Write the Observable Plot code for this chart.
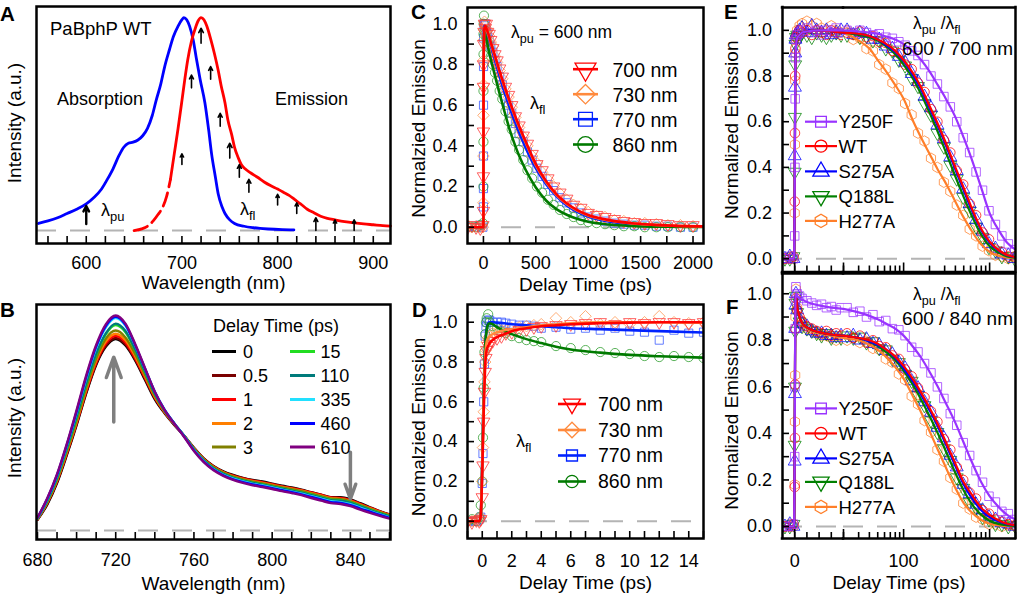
<!DOCTYPE html>
<html><head><meta charset="utf-8">
<script src="https://cdn.jsdelivr.net/npm/d3@7"></script>
<script src="https://cdn.jsdelivr.net/npm/@observablehq/plot@0.6"></script>
<style>
html,body{margin:0;padding:0;background:#fff;}
#root{position:relative;width:1019px;height:594px;overflow:hidden;background:#fff;}
</style></head><body><div id="root"></div>
<script>
// ---------------- Panel A data ----------------
const wlAbs = [550,560,570,580,590,600,608,616,622,628,634,639,644,649,654,659,664,669,673,678,682,687,691,696,700,702,705,708,712,715,719,724,728,731,735,738,742,745,750,755,765,775,790,805,817];
const absVal = [0.033,0.045,0.06,0.08,0.1,0.125,0.155,0.195,0.24,0.29,0.35,0.39,0.41,0.415,0.425,0.445,0.48,0.54,0.61,0.69,0.77,0.85,0.91,0.96,0.99,1.0,0.99,0.96,0.89,0.81,0.71,0.6,0.47,0.36,0.25,0.17,0.11,0.08,0.05,0.033,0.02,0.013,0.007,0.004,0.003];
const wlEm = [650,658,664,670,675,680,684,688,692,696,700,703,706,710,714,717,720,723,726,730,734,738,741,745,748,752,755,759,762,766,772,779,786,793,800,806,812,818,824,831,838,845,852,860,870,880,890,900,910,918];
const emVal = [0.0,0.008,0.02,0.045,0.075,0.11,0.16,0.24,0.36,0.48,0.61,0.71,0.8,0.89,0.95,0.985,1.0,0.99,0.96,0.9,0.83,0.75,0.68,0.6,0.52,0.45,0.39,0.34,0.31,0.29,0.27,0.25,0.228,0.21,0.195,0.18,0.165,0.145,0.125,0.1,0.083,0.067,0.057,0.05,0.042,0.036,0.031,0.027,0.023,0.021];
const arrowWl = [700,710,720,730,740,750,760,770,800,820,840,860,880];
const arrowLo = [0.31,0.67,0.88,0.71,0.49,0.34,0.25,0.18,0.12,0.08,0.0,0.0,0.0];
const arrowHi = [0.36,0.73,0.95,0.77,0.55,0.41,0.31,0.24,0.17,0.13,0.06,0.05,0.05];
const pumpWl = [600], pumpLo = [0.03], pumpHi = [0.115];
const ticksA = [560,580,600,620,640,660,680,700,720,740,760,780,800,820,840,860,880,900];
const labelsA = [600,700,800,900];

// ---------------- Panel B data ----------------
const wlB = [680,685,690,695,700,705,710,715,720,725,730,735,740,745,750,755,760,765,770,775,780,785,790,795,800,805,810,815,820,825,830,835,840,845,850,855,860];
const b_0   = [0.05,0.12,0.22,0.35,0.49,0.64,0.77,0.855,0.89,0.86,0.79,0.70,0.61,0.545,0.49,0.44,0.385,0.335,0.30,0.275,0.258,0.245,0.235,0.228,0.218,0.208,0.2,0.19,0.178,0.167,0.155,0.155,0.145,0.127,0.108,0.09,0.075];
const b_05  = [0.05,0.125,0.225,0.355,0.495,0.645,0.775,0.86,0.895,0.865,0.795,0.705,0.615,0.548,0.492,0.44,0.383,0.334,0.298,0.272,0.256,0.243,0.233,0.225,0.215,0.205,0.197,0.187,0.175,0.164,0.152,0.15,0.14,0.123,0.105,0.088,0.073];
const b_1   = [0.052,0.128,0.23,0.36,0.5,0.65,0.78,0.87,0.905,0.875,0.80,0.71,0.618,0.55,0.493,0.44,0.382,0.333,0.297,0.272,0.255,0.242,0.232,0.224,0.215,0.205,0.197,0.188,0.177,0.166,0.154,0.151,0.141,0.124,0.106,0.089,0.074];
const b_2   = [0.053,0.13,0.233,0.365,0.505,0.658,0.79,0.88,0.915,0.885,0.81,0.717,0.622,0.552,0.494,0.44,0.381,0.331,0.295,0.27,0.252,0.239,0.229,0.221,0.212,0.202,0.194,0.185,0.173,0.162,0.15,0.147,0.137,0.12,0.103,0.086,0.071];
const b_3   = [0.054,0.133,0.237,0.37,0.512,0.667,0.80,0.893,0.93,0.898,0.82,0.724,0.627,0.554,0.495,0.44,0.38,0.33,0.294,0.268,0.25,0.237,0.227,0.219,0.21,0.2,0.192,0.183,0.171,0.16,0.148,0.145,0.135,0.118,0.101,0.084,0.07];
const b_15  = [0.055,0.137,0.243,0.38,0.525,0.682,0.818,0.913,0.955,0.922,0.838,0.737,0.635,0.558,0.497,0.44,0.378,0.327,0.29,0.264,0.246,0.233,0.222,0.214,0.205,0.195,0.186,0.177,0.166,0.155,0.143,0.14,0.13,0.114,0.097,0.081,0.067];
const b_110 = [0.056,0.139,0.246,0.383,0.53,0.688,0.823,0.918,0.962,0.928,0.842,0.74,0.637,0.559,0.497,0.44,0.377,0.326,0.289,0.263,0.245,0.232,0.221,0.213,0.204,0.194,0.185,0.176,0.164,0.153,0.141,0.138,0.128,0.112,0.095,0.079,0.065];
const b_335 = [0.058,0.145,0.255,0.395,0.548,0.71,0.848,0.945,0.988,0.952,0.86,0.752,0.645,0.562,0.498,0.438,0.374,0.322,0.285,0.259,0.241,0.228,0.217,0.209,0.2,0.19,0.181,0.171,0.159,0.148,0.136,0.132,0.122,0.106,0.09,0.075,0.061];
const b_460 = [0.059,0.147,0.258,0.398,0.553,0.716,0.855,0.952,0.994,0.957,0.862,0.752,0.644,0.561,0.497,0.437,0.372,0.32,0.283,0.257,0.238,0.225,0.214,0.206,0.197,0.187,0.178,0.168,0.156,0.144,0.132,0.128,0.118,0.102,0.087,0.072,0.058];
const b_610 = [0.06,0.15,0.262,0.403,0.56,0.724,0.863,0.96,1.0,0.962,0.866,0.755,0.645,0.56,0.496,0.435,0.37,0.318,0.28,0.254,0.235,0.221,0.21,0.202,0.193,0.183,0.174,0.164,0.151,0.139,0.127,0.123,0.113,0.097,0.082,0.068,0.055];
const delaysB = ["0","0.5","1","2","3","15","110","335","460","610"];
const arrowBx = [719, 840], arrowBfrom = [0.504, 0.364], arrowBto = [0.806, 0.147];
const ticksB = [680,690,700,710,720,730,740,750,760,770,780,790,800,810,820,830,840,850,860];
const labelsB = [680,720,760,800,840];

// ---------------- Panel C data ----------------
const tFitC = [-150,-1,0,1,3,10,20,30,50,75,100,150,200,250,300,350,400,500,600,700,800,900,1000,1200,1400,1600,1800,2100];
const fitC700 = [0,0,0.05,0.6,0.85,0.98,0.99,0.975,0.945,0.9,0.86,0.775,0.695,0.62,0.55,0.485,0.425,0.31,0.225,0.16,0.115,0.083,0.06,0.035,0.021,0.013,0.008,0.004];
const fitC730 = [0,0,0.05,0.62,0.87,0.98,0.985,0.97,0.94,0.895,0.855,0.77,0.69,0.615,0.545,0.48,0.42,0.305,0.22,0.157,0.112,0.08,0.058,0.033,0.02,0.012,0.007,0.004];
const fitC770 = [0,0,0.05,0.65,0.92,0.99,0.985,0.965,0.93,0.885,0.84,0.75,0.665,0.59,0.52,0.455,0.395,0.29,0.21,0.15,0.105,0.075,0.053,0.028,0.015,0.008,0.004,0.002];
const fitC860 = [0,0,0.05,0.6,0.9,0.96,0.94,0.92,0.87,0.815,0.765,0.665,0.57,0.48,0.405,0.34,0.285,0.195,0.13,0.088,0.06,0.04,0.027,0.013,0.006,0.003,0.002,0.001];
const tMC = [-150,-110,-70,-30,-5,0,0.2,0.4,0.7,1,2,5,10,18,28,40,55,70,90,110,130,155,180,210,240,270,305,340,380,420,465,510,560,615,670,730,795,860,930,1000,1080,1160,1250,1340,1440,1540,1650,1760,1880,2000];
const datC700 = [0,0.01,0,-0.005,0.01,0.08,0.25,0.47,0.69,0.8,0.9,0.96,1.0,0.98,1.0,0.96,0.95,0.92,0.88,0.85,0.82,0.78,0.74,0.69,0.65,0.6,0.545,0.5,0.45,0.41,0.36,0.31,0.28,0.24,0.2,0.17,0.14,0.11,0.095,0.07,0.06,0.05,0.04,0.03,0.025,0.02,0.02,0.015,0.01,0.01];
const datC730 = [0.01,0,0.005,0,0,0.12,0.35,0.55,0.7,0.82,0.92,0.97,1.01,0.99,0.97,0.97,0.94,0.91,0.89,0.84,0.81,0.77,0.73,0.68,0.64,0.59,0.54,0.49,0.445,0.4,0.35,0.315,0.27,0.235,0.2,0.165,0.135,0.11,0.09,0.075,0.055,0.05,0.035,0.03,0.02,0.02,0.015,0.01,0.01,0.005];
const datC770 = [0,0.005,0,0.01,0,0.1,0.19,0.35,0.6,0.79,0.93,1.0,0.99,1.0,0.97,0.95,0.92,0.89,0.86,0.82,0.79,0.74,0.7,0.645,0.6,0.56,0.51,0.46,0.42,0.37,0.33,0.29,0.25,0.21,0.18,0.145,0.12,0.095,0.07,0.05,0.04,0.03,0.02,0.015,0.01,0.01,0.005,0.005,0,0];
const datC860 = [0.005,0,0,0.01,0.02,0.2,0.42,0.67,0.85,0.95,1.0,1.04,0.97,0.95,0.93,0.91,0.88,0.84,0.8,0.76,0.72,0.67,0.63,0.57,0.52,0.48,0.42,0.38,0.33,0.28,0.24,0.2,0.17,0.135,0.11,0.085,0.065,0.05,0.035,0.025,0.02,0.015,0.01,0.005,0.005,0,0,0,0,0];
const ticksCx = [0,250,500,750,1000,1250,1500,1750,2000];
const labelsCx = [0,500,1000,1500,2000];
const ticksY = [0,0.1,0.2,0.3,0.4,0.5,0.6,0.7,0.8,0.9,1.0];
const labelsY = [0,0.2,0.4,0.6,0.8,1.0];
const wlNames = ["700 nm","730 nm","770 nm","860 nm"];

// ---------------- Panel D data ----------------
const tFitD = [-1,-0.5,-0.2,-0.1,0,0.1,0.2,0.3,0.4,0.5,0.7,1,1.5,2,3,4,5,6,8,10,12,15];
const fitD700 = [0,0,0,0.03,0.25,0.55,0.78,0.86,0.88,0.895,0.91,0.925,0.94,0.955,0.97,0.98,0.985,0.99,0.995,0.998,1.0,1.0];
const fitD730 = [0,0,0,0.03,0.27,0.6,0.83,0.9,0.92,0.93,0.94,0.95,0.96,0.965,0.975,0.985,0.99,0.995,1.0,1.0,1.0,0.998];
const fitD770 = [0,0,0,0.03,0.3,0.65,0.88,0.97,0.995,1.0,1.0,0.998,0.995,0.99,0.985,0.98,0.975,0.97,0.965,0.96,0.955,0.948];
const fitD860 = [0,0,0,0.03,0.3,0.65,0.88,0.96,0.99,0.995,0.99,0.975,0.955,0.94,0.915,0.895,0.877,0.863,0.847,0.836,0.829,0.822];
const tMD = [-1,-0.7,-0.4,-0.2,-0.1,0,0.05,0.1,0.15,0.2,0.25,0.3,0.4,0.5,0.7,1,1.3,1.6,2,2.5,3,3.5,4,5,6,7,8,9,10,11,12,13,14,15];
const datD700 = [0,-0.005,0.005,0,0.01,0.12,0.28,0.5,0.65,0.75,0.82,0.86,0.88,0.89,0.905,0.92,0.93,0.945,0.95,0.96,0.965,0.975,0.98,0.985,0.99,0.995,1.0,0.99,1.0,0.995,1.0,1.0,0.995,1.0];
const datD730 = [0,0,0.01,0,0.02,0.2,0.37,0.55,0.7,0.8,0.86,0.9,0.92,0.93,0.945,0.95,0.96,0.96,0.97,0.975,0.98,0.985,0.99,1.02,1.0,1.03,0.99,1.0,0.99,1.0,1.03,1.0,0.995,1.0];
const datD770 = [0,0,0,0.01,0.02,0.19,0.34,0.6,0.79,0.93,0.98,1.0,1.01,1.01,1.0,1.0,1.0,0.995,0.99,0.985,0.985,0.98,0.97,0.975,0.965,0.97,0.96,0.97,0.955,0.95,0.91,0.96,0.945,0.95];
const datD860 = [0,0.01,0,0.02,0.08,0.2,0.42,0.67,0.85,0.94,1.0,1.02,1.04,1.0,0.98,0.97,0.95,0.945,0.93,0.92,0.91,0.905,0.9,0.88,0.87,0.86,0.85,0.845,0.84,0.83,0.825,0.83,0.825,0.82];
const ticksDx = [-1,0,1,2,3,4,5,6,7,8,9,10,11,12,13,14,15];
const labelsDx = [0,2,4,6,8,10,12,14];

// ---------------- Panels E / F data ----------------
const mutants = ["Y250F","WT","S275A","Q188L","H277A"];
const tFitEF = [-5,-0.5,-0.2,0,0.2,0.4,0.7,1,2,3,5,10,15,20,30,40,50,60,80,100,130,160,200,250,300,400,500,600,800,1000,1300,1600,2000];
const fitE_Y250F = [0,0,0.02,0.3,0.75,0.9,0.95,0.965,0.98,0.99,0.995,1.0,1.0,1.0,0.995,0.99,0.985,0.975,0.96,0.94,0.905,0.87,0.82,0.76,0.71,0.62,0.53,0.45,0.31,0.2,0.12,0.07,0.04];
const fitE_WT    = [0,0,0.02,0.3,0.75,0.9,0.95,0.965,0.98,0.99,0.995,1.0,0.995,0.99,0.985,0.975,0.96,0.945,0.91,0.87,0.81,0.75,0.67,0.59,0.52,0.4,0.31,0.235,0.13,0.075,0.035,0.016,0.007];
const fitE_S275A = [0,0,0.02,0.3,0.75,0.9,0.95,0.965,0.98,0.99,0.995,1.0,0.995,0.99,0.985,0.975,0.96,0.94,0.905,0.865,0.8,0.74,0.66,0.58,0.51,0.39,0.3,0.225,0.125,0.07,0.033,0.015,0.007];
const fitE_Q188L = [0,0,0.02,0.3,0.75,0.9,0.95,0.965,0.98,0.99,0.995,1.0,0.995,0.99,0.98,0.97,0.955,0.935,0.895,0.85,0.785,0.72,0.64,0.555,0.48,0.36,0.27,0.2,0.105,0.055,0.025,0.01,0.005];
const fitE_H277A = [0,0,0.02,0.3,0.75,0.9,0.95,0.965,0.98,0.99,0.995,1.0,0.995,0.99,0.955,0.92,0.87,0.83,0.76,0.7,0.6,0.53,0.46,0.39,0.34,0.25,0.18,0.13,0.062,0.03,0.012,0.005,0.002];
const fitF_Y250F = [0,0,0.02,0.35,0.85,1.0,1.0,0.99,0.98,0.975,0.965,0.95,0.94,0.935,0.92,0.905,0.89,0.875,0.85,0.82,0.77,0.725,0.665,0.6,0.54,0.445,0.36,0.29,0.19,0.13,0.08,0.05,0.03];
const fitF_WT    = [0,0,0.02,0.35,0.85,1.0,0.98,0.95,0.9,0.875,0.855,0.835,0.825,0.82,0.81,0.8,0.785,0.765,0.73,0.69,0.63,0.575,0.51,0.44,0.375,0.27,0.19,0.145,0.08,0.05,0.025,0.012,0.006];
const fitF_S275A = [0,0,0.02,0.35,0.85,1.0,0.98,0.95,0.9,0.875,0.855,0.835,0.825,0.82,0.81,0.795,0.78,0.765,0.725,0.68,0.62,0.565,0.5,0.43,0.365,0.26,0.18,0.13,0.07,0.04,0.02,0.01,0.005];
const fitF_Q188L = [0,0,0.02,0.35,0.85,1.0,0.98,0.95,0.9,0.875,0.855,0.835,0.825,0.82,0.81,0.795,0.775,0.755,0.715,0.67,0.605,0.545,0.475,0.4,0.335,0.23,0.155,0.105,0.05,0.025,0.01,0.005,0.002];
const fitF_H277A = [0,0,0.02,0.35,0.85,1.0,0.98,0.95,0.9,0.87,0.85,0.83,0.82,0.81,0.8,0.78,0.76,0.735,0.685,0.635,0.555,0.49,0.41,0.33,0.265,0.165,0.1,0.065,0.028,0.012,0.005,0.002,0.001];
const tMEF = [-4,-2,-0.5,0,0.1,0.2,0.3,0.5,1,2,3,5,7,9,11,13,15,17,19,22,26,31,37,44,52,62,74,88,104,124,147,175,208,247,294,349,415,493,586,696,827,983,1168,1388,1650,1960];
const datE_Y250F = [0,0.01,0,0.1,0.4,0.7,0.88,0.96,0.98,0.99,1.0,1.01,0.99,1.0,0.98,1.0,0.99,1.01,0.99, 1.0,0.99,1.0,0.99,0.98,0.985,0.97,0.965,0.95,0.935,0.91,0.89,0.85,0.8,0.765,0.71,0.665,0.6,0.53,0.465,0.38,0.3,0.21,0.15,0.1,0.065,0.04];
const datE_WT    = [0,0,0.01,0.25,0.55,0.8,0.92,0.97,0.98,1.0,0.99,1.0,0.98,1.0,0.99,0.98,1.0,0.99,0.98, 0.99,0.98,0.995,0.97,0.975,0.95,0.945,0.91,0.9,0.85,0.83,0.77,0.73,0.655,0.6,0.52,0.465,0.385,0.325,0.24,0.19,0.115,0.085,0.04,0.03,0.01,0.01];
const datE_S275A = [0,0.01,0,0.45,0.75,0.9,0.96,0.98,0.99,1.0,1.01,0.99,1.02,1.0,0.99,1.0,0.98,0.99,1.0, 1.0,0.98,0.99,0.985,0.96,0.96,0.93,0.92,0.885,0.86,0.81,0.775,0.71,0.66,0.585,0.525,0.445,0.385,0.305,0.24,0.17,0.12,0.065,0.045,0.02,0.015,0.0];
const datE_Q188L = [0,0,0.01,0.38,0.62,0.85,0.94,0.97,0.98,0.97,0.99,0.98,0.97,0.99,0.98,0.97,0.98,0.99,0.98, 0.98,0.99,0.97,0.975,0.955,0.955,0.92,0.91,0.87,0.845,0.79,0.755,0.68,0.63,0.55,0.49,0.41,0.35,0.27,0.21,0.14,0.095,0.05,0.035,0.01,0.01,0.0];
const datE_H277A = [0,0.01,0,0.2,0.5,0.78,0.9,0.96,1.0,1.02,1.03,1.04,1.02,1.03,1.01,1.0,1.02,1.0,0.99, 1.0,0.96,0.965,0.92,0.91,0.85,0.83,0.77,0.745,0.68,0.63,0.55,0.515,0.44,0.4,0.335,0.295,0.235,0.19,0.13,0.1,0.055,0.035,0.015,0.01,0.0,0.005];
const datF_Y250F = [0,0,0.01,0.3,0.6,0.85,0.97,1.03,1.0,0.99,0.98,0.97,0.96,0.95,0.955,0.94,0.945,0.93,0.94, 0.94,0.92,0.925,0.9,0.91,0.88,0.885,0.85,0.845,0.82,0.77,0.75,0.7,0.66,0.6,0.55,0.485,0.435,0.36,0.305,0.24,0.19,0.13,0.105,0.065,0.055,0.03];
const datF_WT    = [0,0,0.01,0.17,0.38,0.61,0.85,0.98,0.93,0.9,0.88,0.86,0.85,0.84,0.83,0.84,0.82,0.83,0.82, 0.83,0.81,0.82,0.79,0.8,0.775,0.77,0.735,0.72,0.675,0.645,0.595,0.555,0.495,0.45,0.375,0.33,0.255,0.2,0.145,0.12,0.07,0.055,0.03,0.02,0.01,0.005];
const datF_S275A = [0,0.01,0,0.28,0.57,0.85,0.95,1.0,0.93,0.89,0.87,0.86,0.84,0.83,0.83,0.82,0.82,0.81,0.82, 0.81,0.82,0.8,0.805,0.785,0.78,0.755,0.74,0.705,0.68,0.625,0.595,0.535,0.49,0.425,0.38,0.305,0.255,0.18,0.14,0.095,0.07,0.04,0.03,0.015,0.01,0.0];
const datF_Q188L = [0,0,0.01,0.35,0.6,0.84,0.96,0.99,0.92,0.88,0.86,0.85,0.84,0.83,0.82,0.83,0.81,0.82,0.81, 0.82,0.81,0.815,0.79,0.795,0.765,0.76,0.72,0.705,0.655,0.625,0.565,0.52,0.455,0.405,0.335,0.285,0.21,0.165,0.105,0.08,0.04,0.03,0.01,0.01,0.0,0.005];
const datF_H277A = [0,0.01,0,0.18,0.45,0.65,0.9,1.02,0.94,0.89,0.87,0.85,0.84,0.83,0.82,0.82,0.81,0.8,0.81, 0.8,0.81,0.79,0.795,0.765,0.76,0.72,0.705,0.655,0.63,0.56,0.525,0.455,0.405,0.33,0.28,0.21,0.16,0.1,0.075,0.04,0.03,0.01,0.01,0.0,0.005,0.0];
const ticksLin = [0,5,10,15,20], majorLin = [0,20];
const ticksLog = [30,40,50,60,70,80,90,200,300,400,500,600,700,800,900,2000], majorLog = [100,1000];

// ---------------- styles ----------------
const FONT = '"Liberation Sans", Arial, Helvetica, sans-serif';
const colorsB = ["#000000","#7a0000","#ff0000","#ff7f00","#808000","#22dd22","#007b7b","#22e0ff","#0000ff","#800080"];
const colorsWl = ["#ff0000","#ff8a3d","#0022ff","#007a00"];
const colorsWlDot = ["#ff3b3b","#ff9a55","#3d5cff","#33a033"];
const colorsMut = ["#9933ff","#ff0000","#0000ff","#008000","#ff7f2a"];
const dash = {stroke: "#b4b4b4", strokeWidth: 2, strokeDasharray: "20,14"};
const frameStyle = {stroke: "black", strokeWidth: 2.5};
const tickStyle = {stroke: "black", strokeWidth: 1.6};
const titleX = {textAnchor: "middle", lineAnchor: "middle", fontSize: 19};
const titleY = {textAnchor: "middle", lineAnchor: "middle", rotate: -90, fontSize: 19};

const symTriDown = {draw(ctx, size) { const y = -Math.sqrt(size / (Math.sqrt(3) * 3)); ctx.moveTo(0, -y * 2); ctx.lineTo(-Math.sqrt(3) * y, y); ctx.lineTo(Math.sqrt(3) * y, y); ctx.closePath(); }};
const symDiamond = {draw(ctx, size) { const r = Math.sqrt(size / 2); ctx.moveTo(0, -r); ctx.lineTo(r, 0); ctx.lineTo(0, r); ctx.lineTo(-r, 0); ctx.closePath(); }};
const symHex = {draw(ctx, size) { const R = Math.sqrt(2 * size / (3 * Math.sqrt(3))); for (let i = 0; i < 6; i++) { const a = Math.PI / 3 * i + Math.PI / 6; const px = R * Math.cos(a), py = R * Math.sin(a); if (i) ctx.lineTo(px, py); else ctx.moveTo(px, py); } ctx.closePath(); }};
const symsWl = [symTriDown, symDiamond, d3.symbolSquare, d3.symbolCircle];
const symsMut = [d3.symbolSquare, d3.symbolCircle, d3.symbolTriangle, symTriDown, symHex];

const zip = (xs, ys) => xs.map((x, i) => ({x, y: ys[i]}));
const root = document.getElementById("root");
function addPlot(left, top, width, height, m, options) {
  const svg = Plot.plot({
    width, height, marginTop: m[0], marginRight: m[1], marginBottom: m[2], marginLeft: m[3],
    style: {fontFamily: FONT, fontSize: "18px", background: "transparent", overflow: "visible", color: "black"},
    ...options
  });
  svg.style.position = "absolute"; svg.style.left = left + "px"; svg.style.top = top + "px";
  root.appendChild(svg);
  return svg;
}
const fmt1 = d3.format(".1f");

// ---------------- Panel A ----------------
{
  const innerH = 295 - 6 - 52;
  const abs = zip(wlAbs, absVal), em = zip(wlEm, emVal);
  const arrows = arrowWl.map((x, i) => ({x, lo: arrowLo[i], hi: arrowHi[i]}));
  const pump = pumpWl.map((x, i) => ({x, lo: pumpLo[i], hi: pumpHi[i]}));
  addPlot(0, 0, 400, 295, [6, 10, 52, 36], {
    x: {domain: [548, 918]}, y: {domain: [-0.061, 1.052], axis: null},
    marks: [
      Plot.ruleY([0], dash),
      Plot.line(abs, {x: "x", y: "y", stroke: "#0000ff", strokeWidth: 2.8, curve: "monotone-x"}),
      Plot.line(em.filter(d => d.x <= 688), {x: "x", y: "y", stroke: "#ff0000", strokeWidth: 2.8, strokeDasharray: "14,6", curve: "monotone-x"}),
      Plot.line(em.filter(d => d.x >= 688), {x: "x", y: "y", stroke: "#ff0000", strokeWidth: 2.8, curve: "monotone-x"}),
      Plot.arrow(arrows, {x1: "x", x2: "x", y1: "lo", y2: "hi", stroke: "black", strokeWidth: 1.6, headLength: 5, headAngle: 55}),
      Plot.arrow(pump, {x1: "x", x2: "x", y1: "lo", y2: "hi", stroke: "black", strokeWidth: 2.4, headLength: 7, headAngle: 55}),
      Plot.frame(frameStyle),
      Plot.tickX(ticksA, {x: d => d, insetTop: innerH - 7, ...tickStyle}),
      Plot.axisX(labelsA, {tickSize: 0, tickPadding: 12.5, label: null, tickFormat: d => String(d)}),
      Plot.text(["Wavelength (nm)"], {text: d => d, frameAnchor: "bottom", dy: 39, ...titleX})
      ,
      Plot.text(["Intensity (a.u.)"], {text: d => d, frameAnchor: "left", dx: -22, dy: -2, ...titleY})
    ]
  });
}

// ---------------- Panel B ----------------
{
  const innerH = 299 - 9 - 55;
  const series = [b_0, b_05, b_1, b_2, b_3, b_15, b_110, b_335, b_460, b_610];
  const arrowsB = arrowBx.map((x, i) => ({x, y1: arrowBfrom[i], y2: arrowBto[i]}));
  addPlot(0, 295, 400, 299, [9, 10, 55, 36], {
    x: {domain: [679.5, 860.5]}, y: {domain: [-0.042, 1.051], axis: null},
    marks: [
      Plot.ruleY([0], dash),
      ...series.map((s, i) => Plot.line(zip(wlB, s), {x: "x", y: "y", stroke: colorsB[i], strokeWidth: 2.4, curve: "monotone-x", clip: true})),
      Plot.arrow(arrowsB, {x1: "x", x2: "x", y1: "y1", y2: "y2", stroke: "#7f7f7f", strokeWidth: 3.5, headLength: 13, headAngle: 40}),
      Plot.frame(frameStyle),
      Plot.tickX(ticksB, {x: d => d, insetTop: innerH - 7, ...tickStyle}),
      Plot.axisX(labelsB, {tickSize: 0, tickPadding: 13.5, label: null, tickFormat: d => String(d)}),
      Plot.text(["Wavelength (nm)"], {text: d => d, frameAnchor: "bottom", dy: 44, ...titleX}),
      Plot.text(["Intensity (a.u.)"], {text: d => d, frameAnchor: "left", dx: -22, dy: -4, ...titleY})
    ]
  });
}

// ---------------- Panels C & D ----------------
function panelCD(top, height, m, xDomain, yDomain, tFit, fits, tM, dats, xTicks, xLabels, padX, titleDy, yTitleDy) {
  const innerH = height - m[0] - m[2], innerW = 310 - m[1] - m[3];
  const order = [2, 3, 1, 0];
  addPlot(400, top, 310, height, m, {
    x: {domain: xDomain}, y: {domain: yDomain},
    marks: [
      Plot.ruleY([0], dash),
      ...order.map(i => Plot.dot(zip(tM, dats[i]), {x: "x", y: "y", symbol: symsWl[i], r: 4.6, fill: "none", stroke: colorsWlDot[i], strokeWidth: 1, strokeOpacity: 0.8, clip: true})),
      ...order.map(i => Plot.line(zip(tFit, fits[i]), {x: "x", y: "y", stroke: colorsWl[i], strokeWidth: 2.6, curve: "monotone-x", clip: true})),
      Plot.frame(frameStyle),
      Plot.tickX(xTicks, {x: d => d, insetTop: innerH - 7, ...tickStyle}),
      Plot.tickY(ticksY, {y: d => d, insetRight: innerW - 7, ...tickStyle}),
      Plot.axisX(xLabels, {tickSize: 0, tickPadding: padX, label: null, tickFormat: d => String(d)}),
      Plot.axisY(labelsY, {tickSize: 0, tickPadding: 10, label: null, tickFormat: fmt1}),
      Plot.text(["Delay Time (ps)"], {text: d => d, frameAnchor: "bottom", dy: titleDy, ...titleX}),
      Plot.text(["Normalzied Emission"], {text: d => d, frameAnchor: "left", dx: -48.5, dy: yTitleDy, ...titleY})
    ]
  });
}
panelCD(0, 295, [7, 7, 52, 67], [-152, 2100], [-0.08, 1.08], tFitC, [fitC700, fitC730, fitC770, fitC860], tMC, [datC700, datC730, datC770, datC860], ticksCx, labelsCx, 13, 41, 3);
panelCD(295, 299, [9, 7, 56, 67], [-1, 15], [-0.087, 1.089], tFitD, [fitD700, fitD730, fitD770, fitD860], tMD, [datD700, datD730, datD770, datD860], ticksDx, labelsDx, 16, 44.5, 5.5);

// ---------------- Panels E & F (linear | log split axis) ----------------
function panelEF(top, height, m, yDomain, fits, dats, showLabels, yTitleDy) {
  const innerH = height - m[0] - m[2];
  const wLin = 133, wLog = 176;
  const order = [4, 3, 2, 1, 0];
  const linFits = fits.map(f => zip(tFitEF, f).filter(d => d.x <= 30));
  const logFits = fits.map(f => zip(tFitEF, f).filter(d => d.x >= 15));
  const linDots = dats.map(f => zip(tMEF, f).filter(d => d.x <= 20));
  const logDots = dats.map(f => zip(tMEF, f).filter(d => d.x >= 20));
  const dotOpts = i => ({x: "x", y: "y", symbol: symsMut[i], r: 4.8, fill: "none", stroke: colorsMut[i], strokeWidth: 1, strokeOpacity: 0.75, clip: true});
  const lineOpts = i => ({x: "x", y: "y", stroke: colorsMut[i], strokeWidth: 2.2, curve: "monotone-x", clip: true});
  // linear part
  addPlot(710, top, wLin, height, [m[0], 0, m[2], 72], {
    x: {domain: [-5, 20], axis: null}, y: {domain: yDomain},
    marks: [
      Plot.ruleY([0], dash),
      ...order.map(i => Plot.dot(linDots[i], dotOpts(i))),
      ...order.map(i => Plot.line(linFits[i], lineOpts(i))),
      Plot.ruleY(yDomain, {...frameStyle, strokeLinecap: "square"}),
      Plot.ruleX([-5], {...frameStyle, strokeLinecap: "square"}),
      Plot.tickX(ticksLin, {x: d => d, insetTop: innerH - 6, ...tickStyle}),
      Plot.tickX(majorLin, {x: d => d, insetTop: innerH - 9, ...tickStyle}),
      Plot.tickY(ticksY, {y: d => d, insetRight: 61 - 7, ...tickStyle}),
      Plot.axisY(labelsY, {tickSize: 0, tickPadding: 10.5, label: null, tickFormat: fmt1}),
      ...(showLabels ? [Plot.axisX([0], {tickSize: 0, tickPadding: 16, label: null, tickFormat: d => String(d)})] : []),
      Plot.text(["Normalized Emission"], {text: d => d, frameAnchor: "left", dx: -50.5, dy: yTitleDy, ...titleY})
    ]
  });
  // log part
  addPlot(843, top, wLog, height, [m[0], 4, m[2], 0], {
    x: {type: "log", domain: [20, 2000], axis: null}, y: {domain: yDomain, axis: null},
    marks: [
      Plot.ruleY([0], dash),
      ...order.map(i => Plot.dot(logDots[i], dotOpts(i))),
      ...order.map(i => Plot.line(logFits[i], lineOpts(i))),
      Plot.ruleY(yDomain, {...frameStyle, strokeLinecap: "square"}),
      Plot.ruleX([2000], {...frameStyle, strokeLinecap: "square"}),
      Plot.tickX(ticksLog, {x: d => d, insetTop: innerH - 6, ...tickStyle}),
      Plot.tickX(majorLog, {x: d => d, insetTop: innerH - 9, ...tickStyle}),
      ...(showLabels ? [
        Plot.axisX([20, 100, 1000], {tickSize: 0, tickPadding: 16, label: null, tickFormat: d => String(d)}),
        Plot.text(["Delay Time (ps)"], {text: d => d, frameAnchor: "bottom-left", dx: 55.5, dy: 44.5, ...titleX})
      ] : [])
    ]
  });
}
panelEF(0, 274, [7, 0, 2.5, 0], [-0.058, 1.1],
  [fitE_Y250F, fitE_WT, fitE_S275A, fitE_Q188L, fitE_H277A],
  [datE_Y250F, datE_WT, datE_S275A, datE_Q188L, datE_H277A], false, -10);
panelEF(270, 324, [3, 0, 56, 0], [-0.0516, 1.087],
  [fitF_Y250F, fitF_WT, fitF_S275A, fitF_Q188L, fitF_H277A],
  [datF_Y250F, datF_WT, datF_S275A, datF_Q188L, datF_H277A], true, 14.5);

// ---------------- Annotations & legends overlay ----------------
const ov = d3.select(root).append("svg")
  .attr("width", 1019).attr("height", 594)
  .style("position", "absolute").style("left", "0px").style("top", "0px")
  .style("font-family", FONT).style("pointer-events", "none");
function txt(x, y, s, size, opts = {}) {
  const t = ov.append("text").attr("x", x).attr("y", y).attr("font-size", size).attr("fill", "black").text(s);
  if (opts.bold) t.attr("font-weight", "bold");
  if (opts.anchor) t.attr("text-anchor", opts.anchor);
  return t;
}
function rich(x, y, parts, size, anchor) {
  const t = ov.append("text").attr("x", x).attr("y", y).attr("font-size", size).attr("fill", "black");
  if (anchor) t.attr("text-anchor", anchor);
  let sub = false;
  for (const [s, isSub] of parts) {
    const sp = t.append("tspan").text(s);
    if (isSub && !sub) sp.attr("dy", 5).attr("font-size", size * 0.72);
    else if (isSub) sp.attr("font-size", size * 0.72);
    else if (!isSub && sub) sp.attr("dy", -5);
    sub = isSub;
  }
  return t;
}
function legendRow(x1, x2, yc, color, sym, symSize, label, tx, tBase, fsize, lw) {
  ov.append("line").attr("x1", x1).attr("x2", x2).attr("y1", yc).attr("y2", yc).attr("stroke", color).attr("stroke-width", lw);
  if (sym) ov.append("path").attr("transform", `translate(${(x1 + x2) / 2},${yc})`).attr("d", d3.symbol(sym, symSize)()).attr("fill", "none").attr("stroke", color).attr("stroke-width", 1.3);
  txt(tx, tBase, label, fsize);
}

// panel letters
txt(0, 20.5, "A", 20.5, {bold: true});
txt(0, 316.5, "B", 20.5, {bold: true});
txt(411, 18.5, "C", 20.5, {bold: true});
txt(412, 316.5, "D", 20.5, {bold: true});
txt(724, 18.5, "E", 20.5, {bold: true});
txt(726, 313.5, "F", 20.5, {bold: true});

// A
txt(50, 35, "PaBphP WT", 18.5);
txt(57, 105, "Absorption", 18);
txt(275, 105, "Emission", 18);
rich(101, 216, [["λ", false], ["pu", true]], 18);
rich(240, 215, [["λ", false], ["fl", true]], 18);

// B legend
txt(213, 332, "Delay Time (ps)", 18);
const bBase = [358, 382, 406, 430, 453.5];
for (let i = 0; i < 5; i++) {
  legendRow(212, 236, bBase[i] - 6.5, colorsB[i], null, 0, delaysB[i], 243, bBase[i], 18, 3);
  legendRow(290, 315, bBase[i] - 6.5, colorsB[i + 5], null, 0, delaysB[i + 5], 320.5, bBase[i], 18, 3);
}

// C
rich(511, 38, [["λ", false], ["pu", true], [" = 600 nm", false]], 17.5);
rich(530, 108.5, [["λ", false], ["fl", true]], 18);
const cBase = [76.7, 101.7, 126.7, 152];
for (let i = 0; i < 4; i++) legendRow(573, 598, cBase[i] - 7.5, colorsWl[i], symsWl[i], 190, wlNames[i], 612.5, cBase[i], 19.5, 2.6);

// D
rich(516, 446.5, [["λ", false], ["fl", true]], 18);
const dBase = [410.5, 436.5, 462, 488];
for (let i = 0; i < 4; i++) legendRow(558, 586, dBase[i] - 6.5, colorsWl[i], symsWl[i], 120, wlNames[i], 598, dBase[i], 19.5, 2.6);

// E
rich(913, 28.5, [["λ", false], ["pu", true], [" /λ", false], ["fl", true]], 17.5);
txt(1013, 55, "600 / 700 nm", 19, {anchor: "end"});
const eBase = [128.3, 152.7, 178, 203, 227.5];
for (let i = 0; i < 5; i++) legendRow(805, 837, eBase[i] - 6.6, colorsMut[i], symsMut[i], 115, mutants[i], 838.5, eBase[i], 18.5, 2.2);

// F
rich(913, 300, [["λ", false], ["pu", true], [" /λ", false], ["fl", true]], 17.5);
txt(1013, 325, "600 / 840 nm", 19, {anchor: "end"});
const fBase = [415, 440, 465, 488.5, 513.5];
for (let i = 0; i < 5; i++) legendRow(805, 837, fBase[i] - 6.6, colorsMut[i], symsMut[i], 115, mutants[i], 838.5, fBase[i], 18.5, 2.2);
</script></body></html>
